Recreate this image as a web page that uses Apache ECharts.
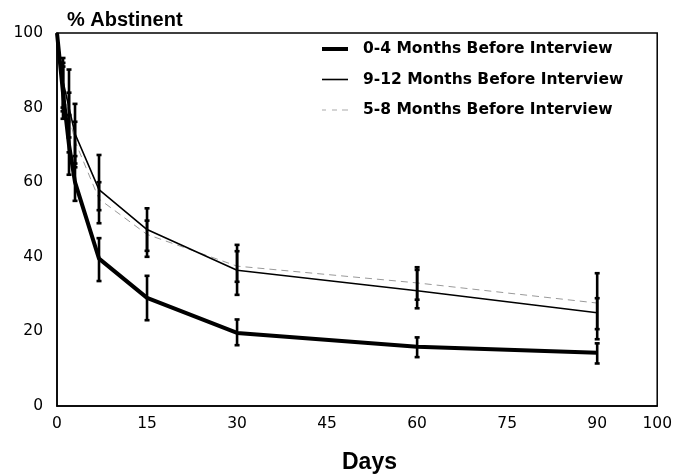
<!DOCTYPE html>
<html>
<head>
<meta charset="utf-8">
<script src="https://cdn.jsdelivr.net/npm/echarts@6/dist/echarts.min.js"></script>
<style>html,body{margin:0;padding:0;background:#fff}#c{width:675px;height:474px}</style>
</head>
<body>
<div id="c"></div>
<script>
const days = [0, 1, 2, 3, 7, 15, 30, 60, 90];
const xTicks = [0, 15, 30, 45, 60, 75, 90, 100];
const yTicks = [0, 20, 40, 60, 80, 100];
const names = ['0-4 Months Before Interview', '9-12 Months Before Interview', '5-8 Months Before Interview'];

const m04 = [100, 84, 70, 60, 39.5, 29, 19.6, 15.9, 14.3];
const m912 = [100, 87, 80, 73, 58, 47.3, 36.4, 30.9, 25];
const m58 = [100, 86, 78, 71, 55.5, 46, 37.5, 33, 27.6];

const m04Lo = [null, 77, 62, 55, 33.5, 23, 16.3, 13.1, 11.4];
const m04Hi = [null, 91, 78, 67, 45, 34.9, 23.2, 18.4, 16.8];
const m912Lo = [null, 80, 72, 65, 49, 41.6, 29.8, 26.2, 17.9];
const m912Hi = [null, 93.3, 90.2, 81, 67.3, 53, 43.2, 37.2, 28.9];
const m58Lo = [null, 79, 68, 64, 52.5, 40, 33.3, 28.5, 20.6];
const m58Hi = [null, 92, 84, 76.2, 60, 49.7, 41.5, 36.5, 35.6];

function pairs(vals) { return days.map((d, i) => [d, vals[i]]); }
function errs(lo, hi) {
  const out = [];
  days.forEach((d, i) => { if (lo[i] != null) out.push([d, lo[i], hi[i]]); });
  return out;
}
function errSeries(lo, hi) {
  return {
    type: 'custom',
    data: errs(lo, hi),
    encode: { x: 0, y: [1, 2] },
    clip: false,
    silent: true,
    z: 5,
    renderItem: function (params, api) {
      const x = api.value(0), a = api.value(1), b = api.value(2);
      const p1 = api.coord([x, a]), p2 = api.coord([x, b]);
      const w = 2.5;
      const st = { stroke: '#000', lineWidth: 2.6 };
      return {
        type: 'group',
        children: [
          { type: 'line', shape: { x1: p1[0], y1: p1[1], x2: p2[0], y2: p2[1] }, style: st },
          { type: 'line', shape: { x1: p1[0] - w, y1: p1[1], x2: p1[0] + w, y2: p1[1] }, style: st },
          { type: 'line', shape: { x1: p2[0] - w, y1: p2[1], x2: p2[0] + w, y2: p2[1] }, style: st }
        ]
      };
    }
  };
}

const chart = echarts.init(document.getElementById('c'));
const font = 'DejaVu Sans, sans-serif';
const font2 = 'Liberation Sans, Arial, sans-serif';
chart.setOption({
  animation: false,
  backgroundColor: '#fff',
  grid: { left: 57, right: 14, top: 33, bottom: 68, show: true, borderColor: '#000', borderWidth: 1.5, backgroundColor: 'transparent' },
  title: [
    { text: '% Abstinent', left: 62, top: 5, textStyle: { fontFamily: font2, fontWeight: 'bold', fontSize: 20, color: '#000' } },
    { text: 'Days', left: 337, top: 446, textStyle: { fontFamily: font2, fontWeight: 'bold', fontSize: 23, color: '#000' } }
  ],
  legend: {
    orient: 'vertical',
    left: 322,
    top: 41,
    padding: 0,
    itemWidth: 26,
    itemHeight: 14,
    itemGap: 14.5,
    itemStyle: { borderWidth: 0 },
    lineStyle: { width: 0 },
    data: [
      { name: names[0], icon: 'path://M0,0H26V4H0Z' },
      { name: names[1], icon: 'path://M0,0H26V1.6H0Z' },
      { name: names[2], icon: 'path://M0,0H4V1H0Z M10,0H15V1H10Z M20,0H26V1H20Z' }
    ],
    textStyle: { fontFamily: font, fontWeight: 'bold', fontSize: 15.5, color: '#000', padding: [0, 0, 0, 10] }
  },
  xAxis: {
    type: 'value', min: 0, max: 100, interval: 15,
    axisLine: { show: true, lineStyle: { color: '#000', width: 1.5 } },
    axisTick: { show: false },
    splitLine: { show: false },
    axisLabel: {
      margin: 10, fontFamily: font, fontSize: 15.5, color: '#000',
      customValues: xTicks,
      formatter: v => String(v)
    }
  },
  yAxis: {
    type: 'value', min: 0, max: 100, interval: 20,
    axisLine: { show: true, lineStyle: { color: '#000', width: 1.5 } },
    axisTick: { show: false },
    splitLine: { show: false },
    axisLabel: { margin: 14, fontFamily: font, fontSize: 15.5, color: '#000', customValues: yTicks }
  },
  series: [
    { name: names[0], type: 'line', data: pairs(m04), symbol: 'none', lineStyle: { color: '#000', width: 4 }, itemStyle: { color: '#000' }, z: 4 },
    { name: names[1], type: 'line', data: pairs(m912), symbol: 'none', lineStyle: { color: '#000', width: 1.6 }, itemStyle: { color: '#000' }, z: 3 },
    { name: names[2], type: 'line', data: pairs(m58), symbol: 'none', lineStyle: { color: '#999', width: 1, type: [7, 5] }, itemStyle: { color: '#aaa' }, z: 2 },
    errSeries(m58Lo, m58Hi),
    errSeries(m912Lo, m912Hi),
    errSeries(m04Lo, m04Hi)
  ]
});
</script>
</body>
</html>
